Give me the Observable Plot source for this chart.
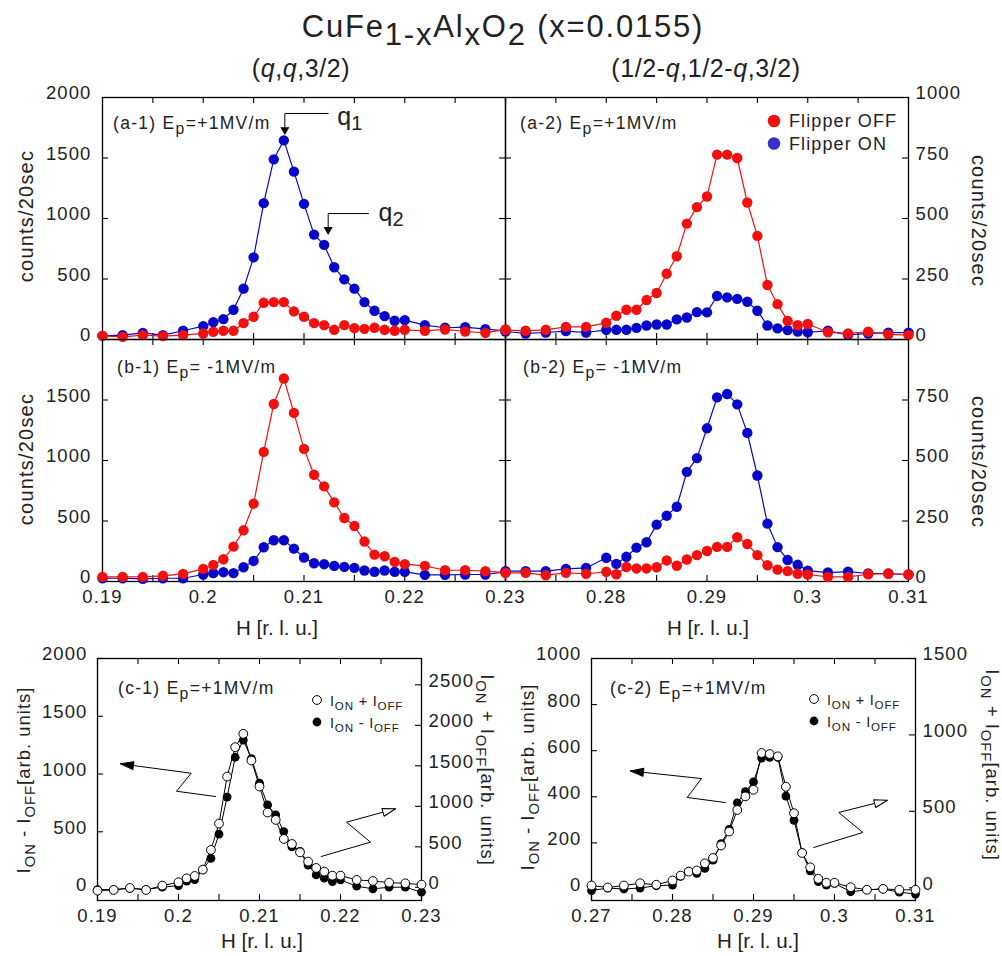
<!DOCTYPE html>
<html><head><meta charset="utf-8">
<script src="https://cdn.jsdelivr.net/npm/d3@7"></script>
<script src="https://cdn.jsdelivr.net/npm/@observablehq/plot@0.6"></script>
<style>
body{margin:0;background:#fff;}
#root{position:relative;width:1002px;height:956px;background:#fff;overflow:hidden;font-family:"Liberation Sans",Arial,Helvetica,sans-serif;color:#222;}
#root svg{position:absolute;}
</style></head><body><div id="root"></div>
<script>
// ---------- data ----------
const H1 = [0.190,0.192,0.194,0.196,0.198,0.200,0.201,0.202,0.203,0.204,0.205,0.206,0.207,0.208,0.209,0.210,0.211,0.212,0.213,0.214,0.215,0.216,0.217,0.218,0.219,0.220,0.222,0.224,0.226,0.228,0.230];
const H2 = [0.270,0.272,0.274,0.276,0.278,0.280,0.281,0.282,0.283,0.284,0.285,0.286,0.287,0.288,0.289,0.290,0.291,0.292,0.293,0.294,0.295,0.296,0.297,0.298,0.299,0.300,0.302,0.304,0.306,0.308,0.310];

const a1On  = [30,36,55,36,72,110,144,168,246,420,679,1127,1489,1646,1387,1121,867,782,597,497,420,309,238,193,155,160,119,97,102,86,72];
const a1Off = [30,22,36,28,36,50,64,72,72,135,188,304,309,309,232,188,135,119,80,119,94,88,97,80,72,80,72,83,66,55,83];
const a2Off = [39,36,40,52,52,69,98,123,123,163,192,272,344,479,547,591,764,764,750,566,428,225,146,77,59,64,30,25,32,21,18];
const a2On  = [33,25,29,35,29,40,40,40,48,58,62,62,83,91,113,112,180,174,168,156,119,58,46,39,33,30,36,19,25,28,28];
const b1Off = [38,38,38,47,63,104,137,184,288,423,643,1071,1467,1678,1393,1096,882,786,654,525,459,330,222,209,162,143,129,93,93,85,74];
const b1On  = [27,27,22,27,27,58,69,77,69,118,170,283,341,341,272,198,151,143,129,121,113,91,80,91,80,80,55,55,58,58,80];
const b2On  = [43,43,43,52,56,98,73,102,140,162,235,272,309,453,510,633,761,775,732,614,438,239,142,89,69,45,37,41,33,33,29];
const b2Off = [36,36,26,36,32,40,30,60,54,54,59,87,65,91,109,126,143,143,183,155,109,67,49,43,32,29,19,19,30,32,29];
const c1Diff = [0,0,10,0,20,34,72,86,172,270,479,800,1145,1294,1133,921,732,646,502,370,330,212,126,98,69,83,29,6,20,20,-23];
const c1Sum  = [-41,-33,-8,-33,21,62,111,140,218,461,787,1367,1730,1895,1565,1244,923,832,597,535,432,317,239,194,144,144,91,78,58,49,33];
const c2Diff = [-7,4,0,4,14,17,55,76,68,89,125,197,259,374,422,465,568,571,571,403,298,158,79,32,17,24,-12,-4,0,-14,-22];
const c2Sum  = [15,2,15,30,20,48,80,106,113,160,195,277,368,509,598,641,882,875,860,661,488,228,134,59,33,33,4,-13,-7,-13,-13];

// tick values
const xTick1 = [0.19,0.195,0.2,0.205,0.21,0.215,0.22,0.225,0.23];
const xLab1  = [0.19,0.2,0.21,0.22,0.23];
const xTick2 = [0.27,0.275,0.28,0.285,0.29,0.295,0.3,0.305,0.31];
const xLab2  = [0.28,0.29,0.3,0.31];
const xLab2c = [0.27,0.28,0.29,0.3,0.31];
const yLabA1 = [0,500,1000,1500,2000];
const yLabB1 = [0,500,1000,1500];
const yLabA2 = [0,250,500,750,1000];
const yLabB2 = [0,250,500,750];
const yLabC1L = [0,500,1000,1500,2000];
const yLabC1R = [0,500,1000,1500,2000,2500];
const yLabC2L = [0,200,400,600,800,1000];
const yLabC2R = [0,500,1000,1500];

// annotations (data coordinates)
const q1Arrow = [{h:0.2124,v:1868},{h:0.2081,v:1868},{h:0.2081,v:1733}];
const q2Arrow = [{h:0.2164,v:1041},{h:0.2124,v:1041},{h:0.2124,v:907}];
const qHeads  = [{h:0.2081,v:1733},{h:0.2124,v:907}];
const qLabels = [{h:0.2133,v:1769,t:"q",s:"1"},{h:0.2174,v:983,t:"q",s:"2"}];
const c1ArrowL = [{h:0.20457,v:805},{h:0.19975,v:851},{h:0.20157,v:1007},{h:0.19284,v:1088}];
const c1ArrowR = [{h:0.21762,v:286},{h:0.2237,v:410},{h:0.22074,v:583},{h:0.22679,v:699}];
const c1HeadL = [{h:0.19284,v:1088,a:-82}];
const c1HeadR = [{h:0.22679,v:699,a:74}];
const c2ArrowL = [{h:0.28654,v:375},{h:0.28181,v:397},{h:0.28358,v:479},{h:0.27481,v:512}];
const c2ArrowR = [{h:0.29744,v:180},{h:0.30349,v:245},{h:0.30053,v:332},{h:0.30651,v:385}];
const c2HeadL = [{h:0.27481,v:512,a:-84}];
const c2HeadR = [{h:0.30651,v:385,a:75}];

// ---------- helpers ----------
const FONT = '"Liberation Sans", Arial, Helvetica, sans-serif';
const RED = "#f2100f", BLUE = "#0707c9";
const root = document.getElementById("root");
const rows = (H, v) => H.map((h, i) => ({h, v: v[i]}));
const fmt = d => String(d);
const M = 70;

function panel(box, xDom, yDom, build) {
  const [x0, x1, y0, y1] = box;
  const W = x1 - x0, Hh = y1 - y0;
  const svg = Plot.plot({
    width: W + 2 * M, height: Hh + 2 * M, margin: M,
    x: {domain: xDom, axis: null}, y: {domain: yDom, axis: null},
    style: {background: "none", fontFamily: FONT, fontSize: "18.5px", color: "#222", overflow: "visible", letterSpacing: "1.1px"},
    marks: build(W, Hh)
  });
  svg.style.position = "absolute";
  svg.style.left = (x0 - M) + "px";
  svg.style.top = (y0 - M) + "px";
  svg.style.maxWidth = "none";
  root.appendChild(svg);
}
const TL = 6, tickStyle = {stroke: "black", strokeWidth: 1.1};
const xTicks = (Hh, xt) => [
  Plot.tickX(xt, {x: d => d, insetTop: Hh - TL, ...tickStyle}),
  Plot.tickX(xt, {x: d => d, insetBottom: Hh - TL, ...tickStyle})
];
const leftTicks = (W, yt) => Plot.tickY(yt, {y: d => d, insetRight: W - TL, ...tickStyle});
const rightTicks = (W, yt) => Plot.tickY(yt, {y: d => d, insetLeft: W - TL, ...tickStyle});
const frame = () => Plot.frame({stroke: "black", strokeWidth: 1.3});
const yLabels = (ticks, anchor, pad) => Plot.axisY({ticks, anchor, tickSize: 0, tickPadding: pad, label: null, tickFormat: fmt, dy: -4});
const xLabels = ticks => Plot.axisX({ticks, anchor: "bottom", tickSize: 0, tickPadding: 8, label: null, tickFormat: fmt});
const series = (data, color) => [
  Plot.line(data, {x: "h", y: "v", stroke: color, strokeWidth: 1.2}),
  Plot.dot(data, {x: "h", y: "v", r: 5.2, fill: color})
];
const triShape = {draw(context, l) { context.moveTo(0, -l); context.lineTo(-4, 0); context.lineTo(4, 0); context.closePath(); }};
const zig = (path, headFilled, headOpen) => [
  Plot.line(path[0], {x: "h", y: "v", stroke: "black", strokeWidth: 1}),
  Plot.line(path[1], {x: "h", y: "v", stroke: "black", strokeWidth: 1}),
  Plot.vector(headFilled, {x: "h", y: "v", rotate: "a", length: 13, anchor: "end", shape: triShape, fill: "black", stroke: "black", strokeWidth: 1}),
  Plot.vector(headOpen, {x: "h", y: "v", rotate: "a", length: 13, anchor: "end", shape: triShape, fill: "white", stroke: "black", strokeWidth: 1})
];

// frame boxes [x0,x1,y0,y1]
const A1 = [102, 505, 97, 339], A2 = [505, 908, 97, 339];
const B1 = [102, 505, 339, 581], B2 = [505, 908, 339, 581];
const C1 = [97, 421, 658, 900], C2 = [591, 915, 658, 900];

// ---------- top row (a) ----------
panel(A1, [0.19, 0.23], [0, 2000], (W, Hh) => [
  frame(), ...xTicks(Hh, xTick1), leftTicks(W, [500, 1000, 1500]), rightTicks(W, [500, 1000, 1500]),
  yLabels(yLabA1, "left", 11),
  ...series(rows(H1, a1On), BLUE), ...series(rows(H1, a1Off), RED),
  Plot.line(q1Arrow, {x: "h", y: "v", stroke: "black", strokeWidth: 1}),
  Plot.line(q2Arrow, {x: "h", y: "v", stroke: "black", strokeWidth: 1}),
  Plot.dot(qHeads, {x: "h", y: "v", symbol: "triangle", rotate: 180, r: 3.4, fill: "black"}),
  Plot.text(qLabels, {x: "h", y: "v", text: "t", textAnchor: "start", lineAnchor: "bottom", fontSize: 25, letterSpacing: 0}),
  Plot.text(qLabels, {x: "h", y: "v", text: "s", textAnchor: "start", lineAnchor: "bottom", fontSize: 20, dx: 14, dy: 5})
]);
panel(A2, [0.27, 0.31], [0, 1000], (W, Hh) => [
  frame(), ...xTicks(Hh, xTick2), leftTicks(W, [250, 500, 750]), rightTicks(W, [250, 500, 750]),
  yLabels(yLabA2, "right", 7),
  ...series(rows(H2, a2On), BLUE), ...series(rows(H2, a2Off), RED)
]);
// ---------- second row (b) ----------
panel(B1, [0.19, 0.23], [0, 2000], (W, Hh) => [
  frame(), ...xTicks(Hh, xTick1), leftTicks(W, [500, 1000, 1500]), rightTicks(W, [500, 1000, 1500]),
  yLabels(yLabB1, "left", 11), xLabels(xLab1),
  ...series(rows(H1, b1On), BLUE), ...series(rows(H1, b1Off), RED)
]);
panel(B2, [0.27, 0.31], [0, 1000], (W, Hh) => [
  frame(), ...xTicks(Hh, xTick2), leftTicks(W, [250, 500, 750]), rightTicks(W, [250, 500, 750]),
  yLabels(yLabB2, "right", 7), xLabels(xLab2),
  ...series(rows(H2, b2On), BLUE), ...series(rows(H2, b2Off), RED)
]);
// ---------- bottom row (c) ----------
const diffMarks = data => [
  Plot.line(data, {x: "h", y: "v", stroke: "black", strokeWidth: 1}),
  Plot.dot(data, {x: "h", y: "v", r: 4.4, fill: "black"})
];
const sumMarks = data => [
  Plot.line(data, {x: "h", y: "v", stroke: "black", strokeWidth: 1}),
  Plot.dot(data, {x: "h", y: "v", r: 4.4, fill: "white", stroke: "black", strokeWidth: 1})
];
panel(C1, [0.19, 0.23], [-95, 2000], (W, Hh) => [
  frame(), ...xTicks(Hh, xTick1), leftTicks(W, yLabC1L),
  yLabels(yLabC1L, "left", 10), xLabels(xLab1),
  ...diffMarks(rows(H1, c1Diff)),
  ...zig([c1ArrowL, c1ArrowR], c1HeadL, c1HeadR)
]);
panel(C1, [0.19, 0.23], [-163, 2825], (W, Hh) => [
  rightTicks(W, yLabC1R),
  yLabels(yLabC1R, "right", 7),
  ...sumMarks(rows(H1, c1Sum))
]);
panel(C2, [0.27, 0.31], [-50, 1000], (W, Hh) => [
  frame(), ...xTicks(Hh, xTick2), leftTicks(W, yLabC2L),
  yLabels(yLabC2L, "left", 10), xLabels(xLab2c),
  ...diffMarks(rows(H2, c2Diff)),
  ...zig([c2ArrowL, c2ArrowR], c2HeadL, c2HeadR)
]);
panel(C2, [0.27, 0.31], [-83, 1500], (W, Hh) => [
  rightTicks(W, yLabC2R),
  yLabels(yLabC2R, "right", 7),
  ...sumMarks(rows(H2, c2Sum))
]);

// ---------- text overlay ----------
const ov = d3.select(root).append("svg")
  .attr("width", 1002).attr("height", 956)
  .style("left", "0px").style("top", "0px")
  .style("font-family", FONT).style("fill", "#222").style("pointer-events", "none");

function rich(x, y, parts, {size = 20, anchor = "start", rotate = 0, ls = 0, subScale = 0.8, subShift = 0.26} = {}) {
  const g = ov.append("g").attr("transform", `translate(${x},${y}) rotate(${rotate})`);
  const t = g.append("text").attr("text-anchor", anchor).attr("font-size", size).style("letter-spacing", ls + "px");
  let shift = 0;
  for (const p of parts) {
    const [s, k] = typeof p === "string" ? [p, "n"] : p;
    const target = k === "s" ? size * subShift : 0;
    const ts = t.append("tspan").text(s).attr("dy", target - shift);
    if (k === "s") ts.attr("font-size", size * subScale);
    if (k === "i") ts.attr("font-style", "italic");
    shift = target;
  }
}

// title and column headers
rich(503, 37, ["CuFe", ["1-x", "s"], "Al", ["x", "s"], "O", ["2", "s"], " (x=0.0155)"], {size: 31, anchor: "middle", ls: 1.8, subScale: 1, subShift: 0.27});
rich(301, 77, ["(", ["q", "i"], ",", ["q", "i"], ",3/2)"], {size: 25, anchor: "middle", ls: 0.6});
rich(706, 77, ["(1/2-", ["q", "i"], ",1/2-", ["q", "i"], ",3/2)"], {size: 25, anchor: "middle", ls: 0.6});

// panel labels
const pl = {size: 17.5, ls: 1.3, subShift: 0.3, subScale: 0.9};
rich(113, 129, ["(a-1) E", ["p", "s"], "=+1MV/m"], pl);
rich(520, 129, ["(a-2) E", ["p", "s"], "=+1MV/m"], pl);
rich(117, 373, ["(b-1) E", ["p", "s"], "= -1MV/m"], pl);
rich(523, 373, ["(b-2) E", ["p", "s"], "= -1MV/m"], pl);
rich(118, 694, ["(c-1) E", ["p", "s"], "=+1MV/m"], pl);
rich(610, 694, ["(c-2) E", ["p", "s"], "=+1MV/m"], pl);

// legend (a-2)
ov.append("circle").attr("cx", 774).attr("cy", 121).attr("r", 6.3).attr("fill", "#ee1111");
ov.append("circle").attr("cx", 774).attr("cy", 143.5).attr("r", 6.3).attr("fill", "#3a2ec9");
rich(789, 127, ["Flipper OFF"], {size: 18, ls: 1.1});
rich(789, 150, ["Flipper ON"], {size: 18, ls: 1.1});

// legends (c)
for (const [cx, cy] of [[317, 700], [814, 699]]) {
  ov.append("circle").attr("cx", cx).attr("cy", cy).attr("r", 4.4).attr("fill", "white").attr("stroke", "black");
  ov.append("circle").attr("cx", cx).attr("cy", cy + 22).attr("r", 4.4).attr("fill", "black");
  rich(cx + 13, cy + 6, ["I", ["ON", "s"], " + I", ["OFF", "s"]], {size: 14.5, ls: 0.8});
  rich(cx + 13, cy + 28, ["I", ["ON", "s"], " - I", ["OFF", "s"]], {size: 14.5, ls: 0.8});
}

// axis titles
const at = {size: 20, anchor: "middle", ls: 1.2};
rich(33, 216, ["counts/20sec"], {...at, rotate: -90});
rich(33, 459, ["counts/20sec"], {...at, rotate: -90});
rich(972, 221, ["counts/20sec"], {...at, rotate: 90});
rich(972, 462, ["counts/20sec"], {...at, rotate: 90});
rich(277, 635, ["H [r. l. u.]"], {size: 20.5, anchor: "middle"});
rich(708, 635, ["H [r. l. u.]"], {size: 20.5, anchor: "middle"});
rich(262, 948, ["H [r. l. u.]"], {size: 20.5, anchor: "middle"});
rich(758, 948, ["H [r. l. u.]"], {size: 20.5, anchor: "middle"});
const yt = {size: 18.5, anchor: "middle", ls: 1, subShift: 0.28, subScale: 0.8};
rich(30, 780, ["I", ["ON", "s"], " - I", ["OFF", "s"], "[arb. units]"], {...yt, rotate: -90});
rich(534, 777, ["I", ["ON", "s"], " - I", ["OFF", "s"], "[arb. units]"], {...yt, rotate: -90});
rich(481, 770, ["I", ["ON", "s"], " + I", ["OFF", "s"], "[arb. units]"], {...yt, rotate: 90});
rich(986, 765, ["I", ["ON", "s"], " + I", ["OFF", "s"], "[arb. units]"], {...yt, rotate: 90});
</script>
</body></html>
